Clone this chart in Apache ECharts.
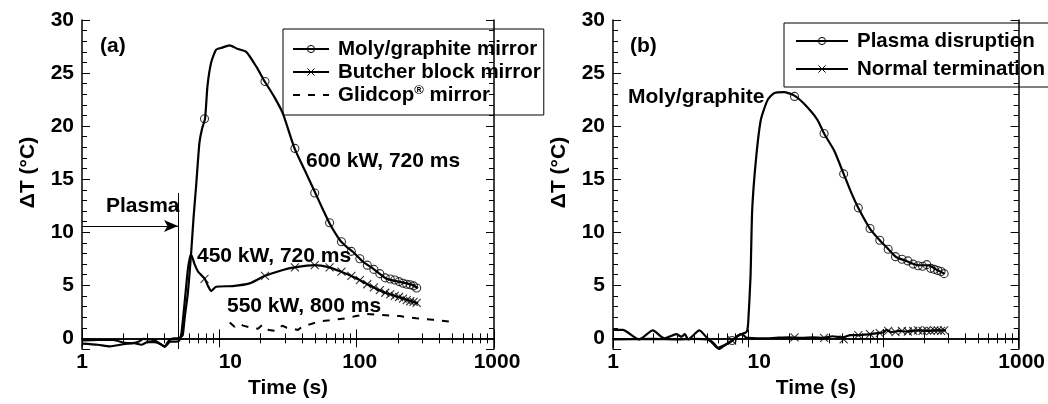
<!DOCTYPE html>
<html>
<head>
<meta charset="utf-8">
<script src="https://cdn.jsdelivr.net/npm/echarts@6/dist/echarts.min.js"></script>
<style>
  html, body { margin: 0; padding: 0; background: #fff; }
  #chart { width: 1048px; height: 404px; }
</style>
</head>
<body>
<div id="chart"></div>
<script>
var FONT = "'Liberation Sans', Arial, Helvetica, sans-serif";

// (a) time axis in s, values are delta T in C
var molyT = [1, 1.3, 1.7, 2, 2.3, 2.6, 2.8, 3.1, 3.4, 3.7, 4.0, 4.3, 4.7, 5.0, 5.2, 5.41, 5.6, 5.89, 6.23, 6.5, 6.77, 7.16, 7.5, 7.87, 8.2, 8.72, 9.48, 10.5, 11.86, 13.5, 15.7, 18.6, 21.3, 25, 29, 35.3, 42.9, 50.1, 57, 63.4, 70, 77.2, 85, 93.8, 111, 131, 164, 205, 257, 279];
var molyV = [-0.2, -0.15, -0.15, -0.4, -0.45, -0.3, -0.05, -0.1, -0.2, -0.5, -0.75, -0.2, 0.0, 0.0, 0.1, 0.3, 2.0, 4.2, 8.0, 11.5, 14.3, 18.4, 19.8, 20.7, 23.8, 26.0, 27.2, 27.4, 27.6, 27.3, 27.0, 25.6, 24.25, 22.8, 21.2, 17.9, 15.55, 13.67, 12.1, 10.84, 9.9, 9.1, 8.6, 8.16, 7.22, 6.6, 5.65, 5.33, 5.02, 4.71];

var butcherT = [1, 1.3, 1.6, 2.0, 2.4, 2.7, 3.0, 3.4, 3.8, 4.0, 4.4, 4.8, 5.1, 5.3, 5.6, 5.9, 6.1, 6.23, 6.6, 7.0, 7.8, 8.3, 8.72, 9.48, 12.5, 16.6, 21.3, 29, 35.3, 49.3, 63.3, 77, 94, 117, 155, 205, 280];
var butcherV = [-0.5, -0.6, -0.75, -0.55, -0.45, -0.6, -0.35, -0.35, -0.6, -0.8, -0.3, -0.3, -0.2, 0.5, 3.5, 6.5, 7.6, 7.9, 7.0, 6.3, 5.65, 4.9, 4.46, 4.87, 4.93, 5.18, 5.87, 6.44, 6.69, 6.91, 6.69, 6.28, 5.81, 5.18, 4.39, 3.86, 3.3];

var glidT = [11.9, 12.9, 13.9, 14.9, 17, 19.1, 20.7, 22.9, 25.9, 28.7, 31.0, 34, 37.4, 41.0, 44.9, 53.6, 63.4, 83.8, 99, 117, 154, 206, 272, 360, 534];
var glidV = [1.5, 1.1, 1.4, 1.2, 1.0, 0.9, 1.3, 0.8, 0.7, 1.2, 1.0, 0.9, 0.8, 1.2, 1.3, 1.6, 1.7, 1.9, 2.1, 2.3, 2.2, 2.1, 1.9, 1.75, 1.5];

var markTa = [7.8, 21.5, 35.5, 49.5, 63.5, 77.5, 91.5, 105.5, 119.5, 133.5, 147.5, 161.5, 175.5, 189.5, 203.5, 217.5, 231.5, 245.5, 259.5, 273.5];
var molyMarkV = [20.7, 24.2, 17.9, 13.7, 10.9, 9.1, 8.2, 7.5, 6.9, 6.5, 6.1, 5.7, 5.6, 5.5, 5.35, 5.2, 5.1, 5.05, 4.95, 4.75];
var butcherMarkV = [5.6, 5.9, 6.7, 6.9, 6.7, 6.3, 5.9, 5.5, 5.1, 4.8, 4.55, 4.3, 4.15, 4.0, 3.9, 3.75, 3.6, 3.5, 3.45, 3.35];

// (b)
var disT = [1, 1.18, 1.56, 1.97, 2.4, 2.95, 3.2, 3.4, 3.6, 4.35, 5.0, 5.3, 5.8, 6.1, 6.8, 7.6, 8.5, 9.6, 9.85, 10.0, 10.4, 10.7, 11.4, 12.4, 13.9, 15.5, 18.4, 21.8, 25.9, 32.5, 36.4, 43.2, 50.8, 57.5, 65.1, 79.4, 93.9, 109, 124, 143, 180, 213, 252, 283];
var disV = [0.8, 0.8, -0.1, 0.75, 0.0, 0.4, 0.15, 0.4, -0.1, 0.75, 0.0, -0.3, -0.8, -1.0, -0.6, -0.2, 0.3, 0.55, 0.8, 1.5, 5.8, 12.1, 16.8, 20.6, 22.45, 23.1, 23.2, 22.9, 22.1, 20.6, 19.3, 17.7, 15.5, 13.8, 12.3, 10.35, 9.25, 8.4, 7.67, 7.36, 6.89, 6.89, 6.42, 6.1];

var normT = [1, 2, 3, 4, 5, 5.5, 6, 6.5, 7, 7.6, 8.3, 9, 9.6, 10, 13, 16, 20, 25, 30, 36, 42, 50, 57, 64, 72, 80, 90, 100, 105, 115, 130, 150, 180, 210, 250, 290];
var normV = [-0.1, -0.05, -0.1, -0.05, -0.1, -0.4, -0.9, -0.7, -0.5, -0.2, 0.2, 0.4, 0.1, 0.05, 0.0, 0.05, 0.1, 0.05, 0.1, 0.05, 0.2, 0.1, 0.3, 0.3, 0.35, 0.4, 0.5, 0.55, 0.8, 0.6, 0.7, 0.65, 0.75, 0.7, 0.75, 0.75];

var markTb = [7.6, 22, 36.4, 50.8, 65.2, 79.6, 94, 108.4, 122.8, 137.2, 151.6, 166, 180.4, 194.8, 209.2, 223.6, 238, 252.4, 266.8, 281.2];
var disMarkV = [-0.2, 22.8, 19.3, 15.5, 12.3, 10.35, 9.25, 8.4, 7.7, 7.45, 7.3, 7.0, 6.85, 6.8, 6.95, 6.6, 6.5, 6.4, 6.3, 6.1];
var normMarkV = [-0.2, 0.1, 0.05, -0.1, 0.3, 0.4, 0.5, 0.7, 0.6, 0.7, 0.65, 0.7, 0.75, 0.7, 0.75, 0.7, 0.75, 0.75, 0.7, 0.75];

var plasmaT = 5;        // plasma end marker in (a)
var plasmaArrowV = 10.6;
var plasmaLineTop = 13.7;

var xTicks = [1, 10, 100, 1000];
var yTicks = [0, 5, 10, 15, 20, 25, 30];

function pairs(t, v) {
    var out = [];
    for (var i = 0; i < t.length; i++) {
        out.push([t[i], v[i]]);
    }
    return out;
}

var CROSS = 'path://M0,0L10,10M10,0L0,10';
var FS = 21;
var textBase = { fontFamily: FONT, fontWeight: 'bold', color: '#000' };

function xAxes(gridIndex, bottom) {
    return {
        type: 'log', logBase: 10, min: 1, max: 1000, gridIndex: gridIndex,
        position: bottom ? 'bottom' : 'top',
        name: bottom ? 'Time (s)' : '',
        nameLocation: 'middle', nameGap: 26,
        nameTextStyle: { fontFamily: FONT, fontWeight: 'bold', fontSize: FS, color: '#000' },
        axisLine: { show: true, lineStyle: { color: '#000', width: 1.5 } },
        axisTick: { show: true, inside: true, length: 9, lineStyle: { color: '#000', width: 1 } },
        minorTick: { show: true, splitNumber: 9, length: 5, lineStyle: { color: '#000', width: 1 } },
        splitLine: { show: false },
        axisLabel: {
            show: bottom, margin: 3, fontFamily: FONT, fontWeight: 'bold', fontSize: FS, color: '#000',
            rich: {
                a: { fontFamily: FONT, fontWeight: 'bold', fontSize: FS, color: '#000', padding: [0, 0, 0, 22] },
                b: { fontFamily: FONT, fontWeight: 'bold', fontSize: FS, color: '#000', padding: [0, 0, 0, 6] }
            },
            formatter: function (v) {
                if (xTicks.indexOf(v) < 0) return '';
                if (v === 10) return '{a|10}';
                if (v > 10) return '{b|' + v + '}';
                return String(v);
            }
        }
    };
}

function yAxes(gridIndex, right, minor) {
    var ax = {
        type: 'value', min: -1, max: 30, gridIndex: gridIndex,
        position: right ? 'right' : 'left',
        axisLine: { show: !minor, lineStyle: { color: '#000', width: 1.5 } },
        axisTick: { show: true, inside: true, length: minor ? 5 : 8, lineStyle: { color: '#000', width: 1 } },
        splitLine: { show: false },
        axisLabel: { show: false }
    };
    if (minor) {
        ax.interval = 1;
    } else {
        ax.splitNumber = 6;
        ax.showMinLabel = false;
    }
    if (!minor && !right) {
        ax.name = 'ΔT (°C)';
        ax.nameLocation = 'middle';
        ax.nameGap = 43;
        ax.nameTextStyle = { fontFamily: FONT, fontWeight: 'bold', fontSize: FS, color: '#000', padding: [0, 0, 0, 24] };
        ax.axisLabel = {
            show: true, margin: 8, fontFamily: FONT, fontWeight: 'bold', fontSize: FS, color: '#000',
            formatter: function (v) { return yTicks.indexOf(v) >= 0 ? String(v) : ''; }
        };
    }
    return ax;
}

function curve(name, t, v, xi, yi, extra) {
    var s = {
        name: name, type: 'line', xAxisIndex: xi, yAxisIndex: yi,
        data: pairs(t, v), showSymbol: false, symbolSize: 8, smooth: 0.2,
        lineStyle: { color: '#000', width: 2.2 },
        itemStyle: { color: 'rgba(0,0,0,0)', borderColor: '#000', borderWidth: 1 },
        z: 3, silent: true
    };
    for (var k in extra) s[k] = extra[k];
    return s;
}

function marks(name, t, v, xi, yi, symbol) {
    return {
        name: name, type: 'scatter', xAxisIndex: xi, yAxisIndex: yi,
        data: pairs(t, v), symbol: symbol, symbolSize: 8,
        itemStyle: { color: 'rgba(0,0,0,0)', borderColor: '#000', borderWidth: 1.1 },
        z: 4, silent: true
    };
}

function txt(str, left, top) {
    return { type: 'text', left: left, top: top, z: 10,
        style: { text: str, font: 'bold ' + FS + 'px ' + FONT, fill: '#000' } };
}

var LFS = 20.5;
var legendText = {
    fontFamily: FONT, fontWeight: 'bold', fontSize: LFS, lineHeight: 22, color: '#000', padding: [0, 0, 0, 4],
    rich: {
        s: { fontFamily: FONT, fontWeight: 'bold', fontSize: 13, color: '#000', verticalAlign: 'top', padding: [0, 0, 8, 0] }
    }
};

var option = {
    animation: false,
    backgroundColor: '#fff',
    textStyle: textBase,
    grid: [
        { left: 82, top: 20, width: 412, height: 329 },
        { left: 613, top: 20, width: 406, height: 329 }
    ],
    xAxis: [xAxes(0, true), xAxes(0, false), xAxes(1, true), xAxes(1, false)],
    yAxis: [
        yAxes(0, false, false), yAxes(0, false, true), yAxes(0, true, false), yAxes(0, true, true),
        yAxes(1, false, false), yAxes(1, false, true), yAxes(1, true, false), yAxes(1, true, true)
    ],
    legend: [
        {
            orient: 'vertical', left: 283, top: 29,
            borderColor: '#000', borderWidth: 1, padding: [9, 3, 9, 9],
            itemWidth: 36, itemHeight: 9, itemGap: 1,
            itemStyle: { borderWidth: 1 },
            textStyle: legendText,
            formatter: function (n) {
                return n.indexOf('Glidcop') === 0 ? 'Glidcop{s|®} mirror' : n;
            },
            data: ['Moly/graphite mirror', 'Butcher block mirror', 'Glidcop® mirror']
        },
        {
            orient: 'vertical', left: 784, top: 23,
            borderColor: '#000', borderWidth: 1, padding: [7, 4, 7, 11],
            itemWidth: 52, itemHeight: 9, itemGap: 6,
            itemStyle: { borderWidth: 1 },
            textStyle: legendText,
            data: ['Plasma disruption', 'Normal termination']
        }
    ],
    graphic: [
        txt('(a)', 100, 36),
        txt('600 kW, 720 ms', 306, 151),
        txt('Plasma', 106, 196),
        txt('450 kW, 720 ms', 197, 246),
        txt('550 kW, 800 ms', 227, 296),
        txt('(b)', 630, 36),
        txt('Moly/graphite', 628, 87)
    ],
    series: [
        curve('Moly/graphite mirror', molyT, molyV, 0, 0, {
            symbol: 'circle',
            markLine: {
                silent: true, animation: false,
                label: { show: false },
                lineStyle: { color: '#000', width: 1, type: 'solid' },
                symbolSize: [9, 14],
                data: [
                    [{ coord: [1, plasmaArrowV], symbol: 'none' }, { coord: [plasmaT, plasmaArrowV], symbol: 'arrow' }],
                    [{ coord: [plasmaT, plasmaLineTop], symbol: 'none' }, { coord: [plasmaT, -1], symbol: 'none' }]
                ]
            }
        }),
        curve('Butcher block mirror', butcherT, butcherV, 0, 0, { symbol: CROSS }),
        curve('Glidcop® mirror', glidT, glidV, 0, 0, {
            symbol: 'none', smooth: false,
            lineStyle: { color: '#000', width: 2, type: [7, 8] },
            itemStyle: { color: 'rgba(0,0,0,0)', borderWidth: 0 }
        }),
        marks('moly-marks', markTa, molyMarkV, 0, 0, 'circle'),
        marks('butcher-marks', markTa, butcherMarkV, 0, 0, CROSS),

        curve('Plasma disruption', disT, disV, 2, 4, { symbol: 'circle' }),
        curve('Normal termination', normT, normV, 2, 4, { symbol: CROSS }),
        marks('dis-marks', markTb, disMarkV, 2, 4, 'circle'),
        marks('norm-marks', markTb, normMarkV, 2, 4, CROSS)
    ]
};

var myChart = echarts.init(document.getElementById('chart'), null, { renderer: 'canvas' });
myChart.setOption(option);
</script>
</body>
</html>
